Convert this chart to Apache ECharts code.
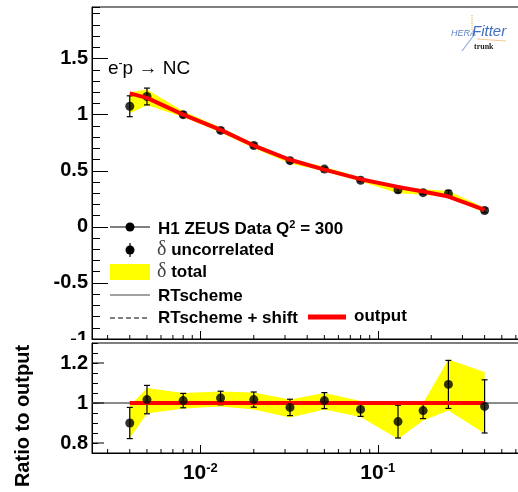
<!DOCTYPE html>
<html>
<head>
<meta charset="utf-8">
<script src="https://cdn.jsdelivr.net/npm/echarts@6/dist/echarts.min.js"></script>
<style>
  html, body { margin: 0; padding: 0; background: #fff; }
  #chart { width: 518px; height: 492px; }
</style>
</head>
<body>
<div id="chart"></div>
<script>
// e-p NC, Q^2 = 300
const xBins = [0.004, 0.005, 0.008, 0.013, 0.02, 0.032, 0.05, 0.08, 0.13, 0.18, 0.25, 0.40];
const sigma = [1.075, 1.162, 1.00, 0.86, 0.725, 0.59, 0.515, 0.415, 0.33, 0.305, 0.295, 0.146];
const sigmaUncor = [0.093, 0.075, 0.025, 0.02, 0.02, 0.02, 0.015, 0.012, 0.025, 0.015, 0.03, 0.02];
const bandHi = [1.20, 1.225, 1.03, 0.885, 0.745, 0.61, 0.535, 0.44, 0.36, 0.335, 0.32, 0.17];
const bandLo = [1.013, 1.085, 0.98, 0.84, 0.70, 0.565, 0.495, 0.405, 0.30, 0.285, 0.265, 0.125];
const output = [1.19, 1.15, 1.0, 0.865, 0.725, 0.598, 0.51, 0.425, 0.356, 0.315, 0.27, 0.152];

// ratio to output
const ratio = [0.90, 1.017, 1.012, 1.025, 1.017, 0.978, 1.012, 0.968, 0.907, 0.962, 1.093, 0.983];
const ratioUncor = [0.078, 0.071, 0.036, 0.034, 0.038, 0.041, 0.04, 0.035, 0.082, 0.04, 0.12, 0.133];
const ratioHi = [0.985, 1.075, 1.05, 1.058, 1.053, 1.017, 1.05, 1.01, 0.993, 1.0, 1.217, 1.155];
const ratioLo = [0.825, 0.947, 0.972, 0.983, 0.967, 0.928, 0.967, 0.93, 0.82, 0.913, 0.963, 0.847];
const ratioOutput = [1, 1, 1, 1, 1, 1, 1, 1, 1, 1, 1, 1];

// ticks
const ratioTicks = [0.8, 1, 1.2];
const ratioRef = [1];
const xMinorTicks = [0.003, 0.004, 0.005, 0.006, 0.007, 0.008, 0.009,
  0.02, 0.03, 0.04, 0.05, 0.06, 0.07, 0.08, 0.09, 0.2, 0.3, 0.4, 0.5, 0.6];

const X_MIN = 0.00245, X_MAX = 0.625;
const FONT = '"Liberation Sans", Arial, Helvetica, sans-serif';
const SERIF = '"Liberation Serif", "DejaVu Serif", serif';
const YELLOW = '#ffff00';

const chart = echarts.init(document.getElementById('chart'));

function band(xIdx, yIdx, hi, lo) {
  return {
    type: 'custom', xAxisIndex: xIdx, yAxisIndex: yIdx, silent: true, z: 1,
    data: [[xBins[0], hi[0]]],
    renderItem(params, api) {
      const pts = [];
      for (let i = 0; i < xBins.length; i++) pts.push(api.coord([xBins[i], hi[i]]));
      for (let i = xBins.length - 1; i >= 0; i--) pts.push(api.coord([xBins[i], lo[i]]));
      return { type: 'polygon', shape: { points: pts }, style: { fill: YELLOW } };
    }
  };
}

function errorBars(xIdx, yIdx, vals, errs) {
  return {
    type: 'custom', xAxisIndex: xIdx, yAxisIndex: yIdx, silent: true, z: 3,
    data: xBins.map((x, i) => [x, vals[i] - errs[i], vals[i] + errs[i]]),
    encode: { x: 0, y: [1, 2] },
    renderItem(params, api) {
      const lo = api.coord([api.value(0), api.value(1)]);
      const hi = api.coord([api.value(0), api.value(2)]);
      const w = 3;
      const st = { stroke: '#000', lineWidth: 1.2 };
      return { type: 'group', children: [
        { type: 'line', shape: { x1: lo[0], y1: lo[1], x2: hi[0], y2: hi[1] }, style: st },
        { type: 'line', shape: { x1: lo[0] - w, y1: lo[1], x2: lo[0] + w, y2: lo[1] }, style: st },
        { type: 'line', shape: { x1: hi[0] - w, y1: hi[1], x2: hi[0] + w, y2: hi[1] }, style: st }
      ]};
    }
  };
}

function minorX(xIdx, yIdx, len) {
  return {
    type: 'custom', xAxisIndex: xIdx, yAxisIndex: yIdx, silent: true, z: 6,
    data: xMinorTicks.map(v => [v, 1]),
    renderItem(params, api) {
      const cs = params.coordSys;
      const x = api.coord([api.value(0), 1])[0];
      const y = cs.y + cs.height;
      return { type: 'line', shape: { x1: x, y1: y, x2: x, y2: y - len }, style: { stroke: '#000', lineWidth: 1 } };
    }
  };
}

const blackLine = { show: true, onZero: false, lineStyle: { color: '#000', width: 1 } };
const tickStyle = { color: '#000', width: 1 };

const option = {
  animation: false,
  backgroundColor: '#fff',
  grid: [
    { left: 92, top: 7, right: -1, height: 332, show: true, borderColor: '#000', borderWidth: 1, outerBoundsMode: 'none' },
    { left: 92, top: 343, right: -1, height: 110, show: true, borderColor: '#000', borderWidth: 1, outerBoundsMode: 'none' }
  ],
  xAxis: [
    { gridIndex: 0, type: 'log', logBase: 10, min: X_MIN, max: X_MAX,
      axisLine: blackLine, axisTick: { show: true, inside: true, length: 8, lineStyle: tickStyle },
      axisLabel: { show: false }, splitLine: { show: false }, minorTick: { show: false } },
    { gridIndex: 1, type: 'log', logBase: 10, min: X_MIN, max: X_MAX,
      axisLine: blackLine, axisTick: { show: true, inside: true, length: 8, lineStyle: tickStyle },
      splitLine: { show: false }, minorTick: { show: false },
      axisLabel: {
        show: true, margin: 9,
        formatter: function (v) {
          const e = Math.log10(v), r = Math.round(e);
          if (Math.abs(e - r) > 1e-6) return '';
          return '{b|10}{s|' + r + '}';
        },
        rich: {
          b: { fontFamily: FONT, fontWeight: 'bold', fontSize: 21, color: '#000', lineHeight: 23 },
          s: { fontFamily: FONT, fontWeight: 'bold', fontSize: 13, color: '#000', lineHeight: 12, verticalAlign: 'top' }
        }
      } }
  ],
  yAxis: [
    { gridIndex: 0, type: 'value', position: 'left', min: -1, max: 1.96, interval: 0.5,
      axisLine: blackLine, axisTick: { show: true, inside: true, length: 16, lineStyle: tickStyle },
      axisLabel: { show: true, margin: 4, showMaxLabel: false, fontFamily: FONT, fontWeight: 'bold', fontSize: 20, color: '#000' },
      splitLine: { show: false } },
    { gridIndex: 0, type: 'value', position: 'left', min: -1, max: 1.96, interval: 0.1,
      axisLine: { show: false }, axisTick: { show: true, inside: true, length: 8, lineStyle: tickStyle },
      axisLabel: { show: false }, splitLine: { show: false } },
    { gridIndex: 1, type: 'value', position: 'left', min: 0.75, max: 1.3, interval: 0.05,
      axisLine: blackLine, axisTick: { show: true, inside: true, length: 6, lineStyle: tickStyle },
      axisLabel: { show: false }, splitLine: { show: false } }
  ],
  series: [
    // top panel
    band(0, 0, bandHi, bandLo),
    errorBars(0, 0, sigma, sigmaUncor),
    { type: 'scatter', xAxisIndex: 0, yAxisIndex: 0, silent: true, z: 4, symbolSize: 9,
      itemStyle: { color: '#000' }, data: xBins.map((x, i) => [x, sigma[i]]) },
    { type: 'line', xAxisIndex: 0, yAxisIndex: 0, silent: true, z: 5, symbol: 'none',
      lineStyle: { color: '#ff0000', width: 4 }, data: xBins.map((x, i) => [x, output[i]]) },
    minorX(0, 0, 4),

    // ratio panel
    band(1, 2, ratioHi, ratioLo),
    { type: 'custom', xAxisIndex: 1, yAxisIndex: 2, silent: true, z: 2,
      data: ratioRef.map(v => [xBins[0], v]),
      renderItem(params, api) {
        const cs = params.coordSys;
        const y = api.coord([xBins[0], api.value(1)])[1];
        return { type: 'line', shape: { x1: cs.x, y1: y, x2: cs.x + cs.width, y2: y }, style: { stroke: '#666', lineWidth: 1.5 } };
      } },
    { type: 'line', xAxisIndex: 1, yAxisIndex: 2, silent: true, z: 3, symbol: 'none',
      lineStyle: { color: '#ff0000', width: 4 }, data: xBins.map((x, i) => [x, ratioOutput[i]]) },
    errorBars(1, 2, ratio, ratioUncor),
    { type: 'scatter', xAxisIndex: 1, yAxisIndex: 2, silent: true, z: 4, symbolSize: 9,
      itemStyle: { color: '#000' }, data: xBins.map((x, i) => [x, ratio[i]]) },
    minorX(1, 2, 4),
    { type: 'custom', xAxisIndex: 1, yAxisIndex: 2, silent: true, z: 6,
      data: ratioTicks.map(v => [xBins[0], v]),
      renderItem(params, api) {
        const cs = params.coordSys;
        const v = api.value(1);
        const y = api.coord([xBins[0], v])[1];
        return { type: 'group', children: [
          { type: 'line', shape: { x1: cs.x, y1: y, x2: cs.x + 12, y2: y }, style: { stroke: '#000', lineWidth: 1 } },
          { type: 'text', style: { text: String(v), x: cs.x - 4, y: y, align: 'right', verticalAlign: 'middle',
            fontFamily: FONT, fontWeight: 'bold', fontSize: 20, fill: '#000' } }
        ]};
      } }
  ],
  graphic: [
    // hide the part of the upper "-1" label that the ratio pad covers
    { type: 'rect', z: 1, silent: true, shape: { x: 0, y: 340, width: 90, height: 152 }, style: { fill: '#fff' } },
    { type: 'text', z: 2, x: 23, y: 416, rotation: Math.PI / 2, silent: true,
      style: { text: 'Ratio to output', align: 'center', verticalAlign: 'middle', textAlign: 'center', textVerticalAlign: 'middle',
        fontFamily: FONT, fontWeight: 'bold', fontSize: 20, fill: '#000' } },

    // process label
    { type: 'text', z: 3, silent: true,
      style: { x: 108, y: 69, text: '{a|e}{s|-}{a|p \u2192 NC}', verticalAlign: 'middle', textVerticalAlign: 'middle',
        rich: {
          a: { fontFamily: FONT, fontSize: 19, fill: '#000', lineHeight: 22 },
          s: { fontFamily: FONT, fontSize: 12, fill: '#000', lineHeight: 12, verticalAlign: 'top' }
        } } },

    // legend
    { type: 'line', z: 3, silent: true, shape: { x1: 110, y1: 227, x2: 150, y2: 227 }, style: { stroke: '#000', lineWidth: 1 } },
    { type: 'circle', z: 3, silent: true, shape: { cx: 130, cy: 227, r: 4.5 }, style: { fill: '#000' } },
    { type: 'text', z: 3, silent: true,
      style: { x: 158, y: 229, text: '{t|H1 ZEUS Data Q}{s|2}{t| = 300}', verticalAlign: 'middle', textVerticalAlign: 'middle',
        rich: {
          t: { fontFamily: FONT, fontWeight: 'bold', fontSize: 17, fill: '#000', lineHeight: 20 },
          s: { fontFamily: FONT, fontWeight: 'bold', fontSize: 11, fill: '#000', lineHeight: 11, verticalAlign: 'top' }
        } } },

    { type: 'line', z: 3, silent: true, shape: { x1: 130, y1: 243, x2: 130, y2: 257 }, style: { stroke: '#000', lineWidth: 1.2 } },
    { type: 'circle', z: 3, silent: true, shape: { cx: 130, cy: 250, r: 4.5 }, style: { fill: '#000' } },
    { type: 'text', z: 3, silent: true,
      style: { x: 157, y: 250, text: '{d|\u03b4}{t| uncorrelated}', verticalAlign: 'middle', textVerticalAlign: 'middle',
        rich: {
          d: { fontFamily: SERIF, fontSize: 20, fill: '#444', lineHeight: 22 },
          t: { fontFamily: FONT, fontWeight: 'bold', fontSize: 17, fill: '#000', lineHeight: 22 }
        } } },

    { type: 'rect', z: 3, silent: true, shape: { x: 110, y: 264, width: 40, height: 16 }, style: { fill: YELLOW } },
    { type: 'text', z: 3, silent: true,
      style: { x: 157, y: 272, text: '{d|\u03b4}{t| total}', verticalAlign: 'middle', textVerticalAlign: 'middle',
        rich: {
          d: { fontFamily: SERIF, fontSize: 20, fill: '#444', lineHeight: 22 },
          t: { fontFamily: FONT, fontWeight: 'bold', fontSize: 17, fill: '#000', lineHeight: 22 }
        } } },

    { type: 'line', z: 3, silent: true, shape: { x1: 110, y1: 295, x2: 150, y2: 295 }, style: { stroke: '#444', lineWidth: 1 } },
    { type: 'text', z: 3, silent: true,
      style: { x: 158, y: 296, text: 'RTscheme', verticalAlign: 'middle', textVerticalAlign: 'middle',
        fontFamily: FONT, fontWeight: 'bold', fontSize: 17, fill: '#000' } },

    { type: 'line', z: 3, silent: true, shape: { x1: 110, y1: 318, x2: 150, y2: 318 }, style: { stroke: '#000', lineWidth: 1, lineDash: [5, 3] } },
    { type: 'text', z: 3, silent: true,
      style: { x: 158, y: 318, text: 'RTscheme + shift', verticalAlign: 'middle', textVerticalAlign: 'middle',
        fontFamily: FONT, fontWeight: 'bold', fontSize: 17, fill: '#000' } },
    { type: 'line', z: 3, silent: true, shape: { x1: 308, y1: 317, x2: 346, y2: 317 }, style: { stroke: '#ff0000', lineWidth: 5 } },
    { type: 'text', z: 3, silent: true,
      style: { x: 354, y: 316, text: 'output', verticalAlign: 'middle', textVerticalAlign: 'middle',
        fontFamily: FONT, fontWeight: 'bold', fontSize: 17, fill: '#000' } },

    // HERAFitter logo
    { type: 'line', z: 3, silent: true, shape: { x1: 472, y1: 15, x2: 472, y2: 30 }, style: { stroke: '#f0a040', lineWidth: 1, lineDash: [1, 1] } },
    { type: 'line', z: 3, silent: true, shape: { x1: 462, y1: 51, x2: 474, y2: 35 }, style: { stroke: '#8fb0e0', lineWidth: 1.2 } },
    { type: 'line', z: 3, silent: true, shape: { x1: 477, y1: 39, x2: 506, y2: 41 }, style: { stroke: '#f3c890', lineWidth: 1 } },
    { type: 'text', z: 3, silent: true,
      style: { x: 451, y: 33, text: 'HERA', verticalAlign: 'middle', textVerticalAlign: 'middle',
        fontFamily: FONT, fontStyle: 'italic', fontSize: 9, fill: '#5b84c8' } },
    { type: 'text', z: 3, silent: true,
      style: { x: 472, y: 32, text: 'Fitter', verticalAlign: 'middle', textVerticalAlign: 'middle',
        fontFamily: FONT, fontStyle: 'italic', fontSize: 15, fill: '#3f6fbf' } },
    { type: 'text', z: 3, silent: true,
      style: { x: 474, y: 47, text: 'trunk', verticalAlign: 'middle', textVerticalAlign: 'middle',
        fontFamily: SERIF, fontWeight: 'bold', fontSize: 8, fill: '#222' } }
  ]
};

chart.setOption(option);
</script>
</body>
</html>
